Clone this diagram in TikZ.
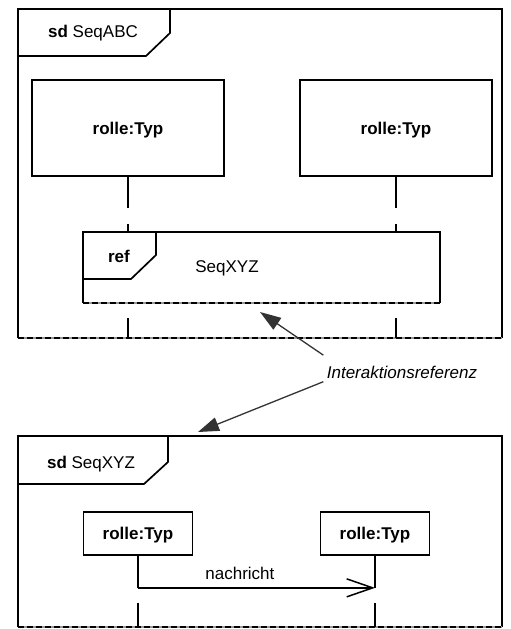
\documentclass[tikz,border=0pt]{standalone}
\usepackage{fontspec}
\setmainfont{Liberation Sans}
\usepackage{tikz}
\usetikzlibrary{arrows.meta}
\usetikzlibrary{positioning}

\newcommand{\umlsize}{\fontsize{17}{20}\selectfont}

\tikzset{
	umlline/.style={line width=1.7pt},
	frame/.style={inner sep=0pt, minimum width=484pt},
	rolebox/.style={draw, line width=1.7pt, inner sep=0pt, font=\umlsize\bfseries, text height=12.5pt, text depth=0pt},
	torn/.style={line width=1.7pt, dash pattern=on 6pt off 3pt},
	hint/.style={draw=black!80, line width=1.3pt, -{Triangle[length=21pt,width=14pt]}},
	msg/.style={line width=1.5pt, -{Straight Barb[length=26pt,width=18pt]}},
}

\begin{document}
\begin{tikzpicture}[x=1pt, y=-1pt, font=\umlsize]
		\useasboundingbox (0,0) rectangle (511,629);
		
		% upper diagram
		\node[frame, minimum height=329pt] (abc) at (260,173.5) {};
		\draw[umlline] (abc.south west) |- (abc.north east) -- (abc.south east);
		\draw[line width=1.7pt, black!40] (abc.south west) -- (abc.south east);
		\draw[torn] (abc.south west) -- (abc.south east);
		\draw[umlline] (18,56) -- (146,56) -- (170,33) -- (170,9);
		\node[anchor=base] (abcname) at (93,37) {\textbf{sd} SeqABC};
		
		\node[rolebox, minimum width=192pt, minimum height=96pt] (a1) at (128,128) {rolle:Typ};
		\node[rolebox, minimum width=192pt, minimum height=96pt] (a2) at (396,128) {rolle:Typ};
		
		\node[inner sep=0pt, minimum width=357pt, minimum height=71pt] (ref) at (261.5,267.5) {};
		\draw[umlline] (ref.south west) |- (ref.north east) -- (ref.south east);
		\draw[line width=1.7pt, black!40] (ref.south west) -- (ref.south east);
		\draw[torn] (ref.south west) -- (ref.south east);
		\draw[umlline] (83,279) -- (131,279) -- (156,255) -- (156,232);
		\node[anchor=base, font=\umlsize\bfseries] (reftag) at (119,262) {ref};
		\node[anchor=base] (refname) at (227,272) {SeqXYZ};
		
		\foreach \r in {a1,a2} {
			\draw[umlline] (\r.south) -- ++(0,31);
			\draw[umlline] (ref.north -| \r.south) -- ++(0,-8);
			\draw[umlline] (abc.south -| \r.south) -- ++(0,-20);
		}
		
		% note
		\node[anchor=base, font=\umlsize\itshape] (ir) at (402,378) {Interaktionsreferenz};
		\coordinate (hit1) at (260,312);
		\coordinate (hit2) at (198,432);
		\draw[hint] ([yshift=7pt]ir.north west) -- (hit1);
		\draw[hint] (ir.south west) -- (hit2);
		
		% lower diagram
		\node[frame, minimum height=191pt] (xyz) at (260,531.5) {};
		\draw[umlline] (xyz.south west) |- (xyz.north east) -- (xyz.south east);
		\draw[line width=1.7pt, black!40] (xyz.south west) -- (xyz.south east);
		\draw[torn] (xyz.south west) -- (xyz.south east);
		\draw[umlline] (18,484) -- (144,484) -- (168,462) -- (168,436);
		\node[anchor=base] (xyzname) at (91,468) {\textbf{sd} SeqXYZ};
		
		\node[rolebox, minimum width=109pt, minimum height=43pt] (b1) at (138,533.5) {rolle:Typ};
		\node[rolebox, minimum width=109pt, minimum height=43pt] (b2) at (375,533.5) {rolle:Typ};
		
		\draw[umlline] (b1.south) -- ++(0,32) coordinate (m1);
		\draw[umlline] (b2.south) -- ++(0,32) coordinate (m2);
		\draw[msg] (m1) -- (m2) node[pos=.43, above=4pt] {nachricht};
		\draw[umlline] (xyz.south -| b1.south) -- ++(0,-24);
		\draw[umlline] (xyz.south -| b2.south) -- ++(0,-24);
		\end{tikzpicture}
\end{document}
